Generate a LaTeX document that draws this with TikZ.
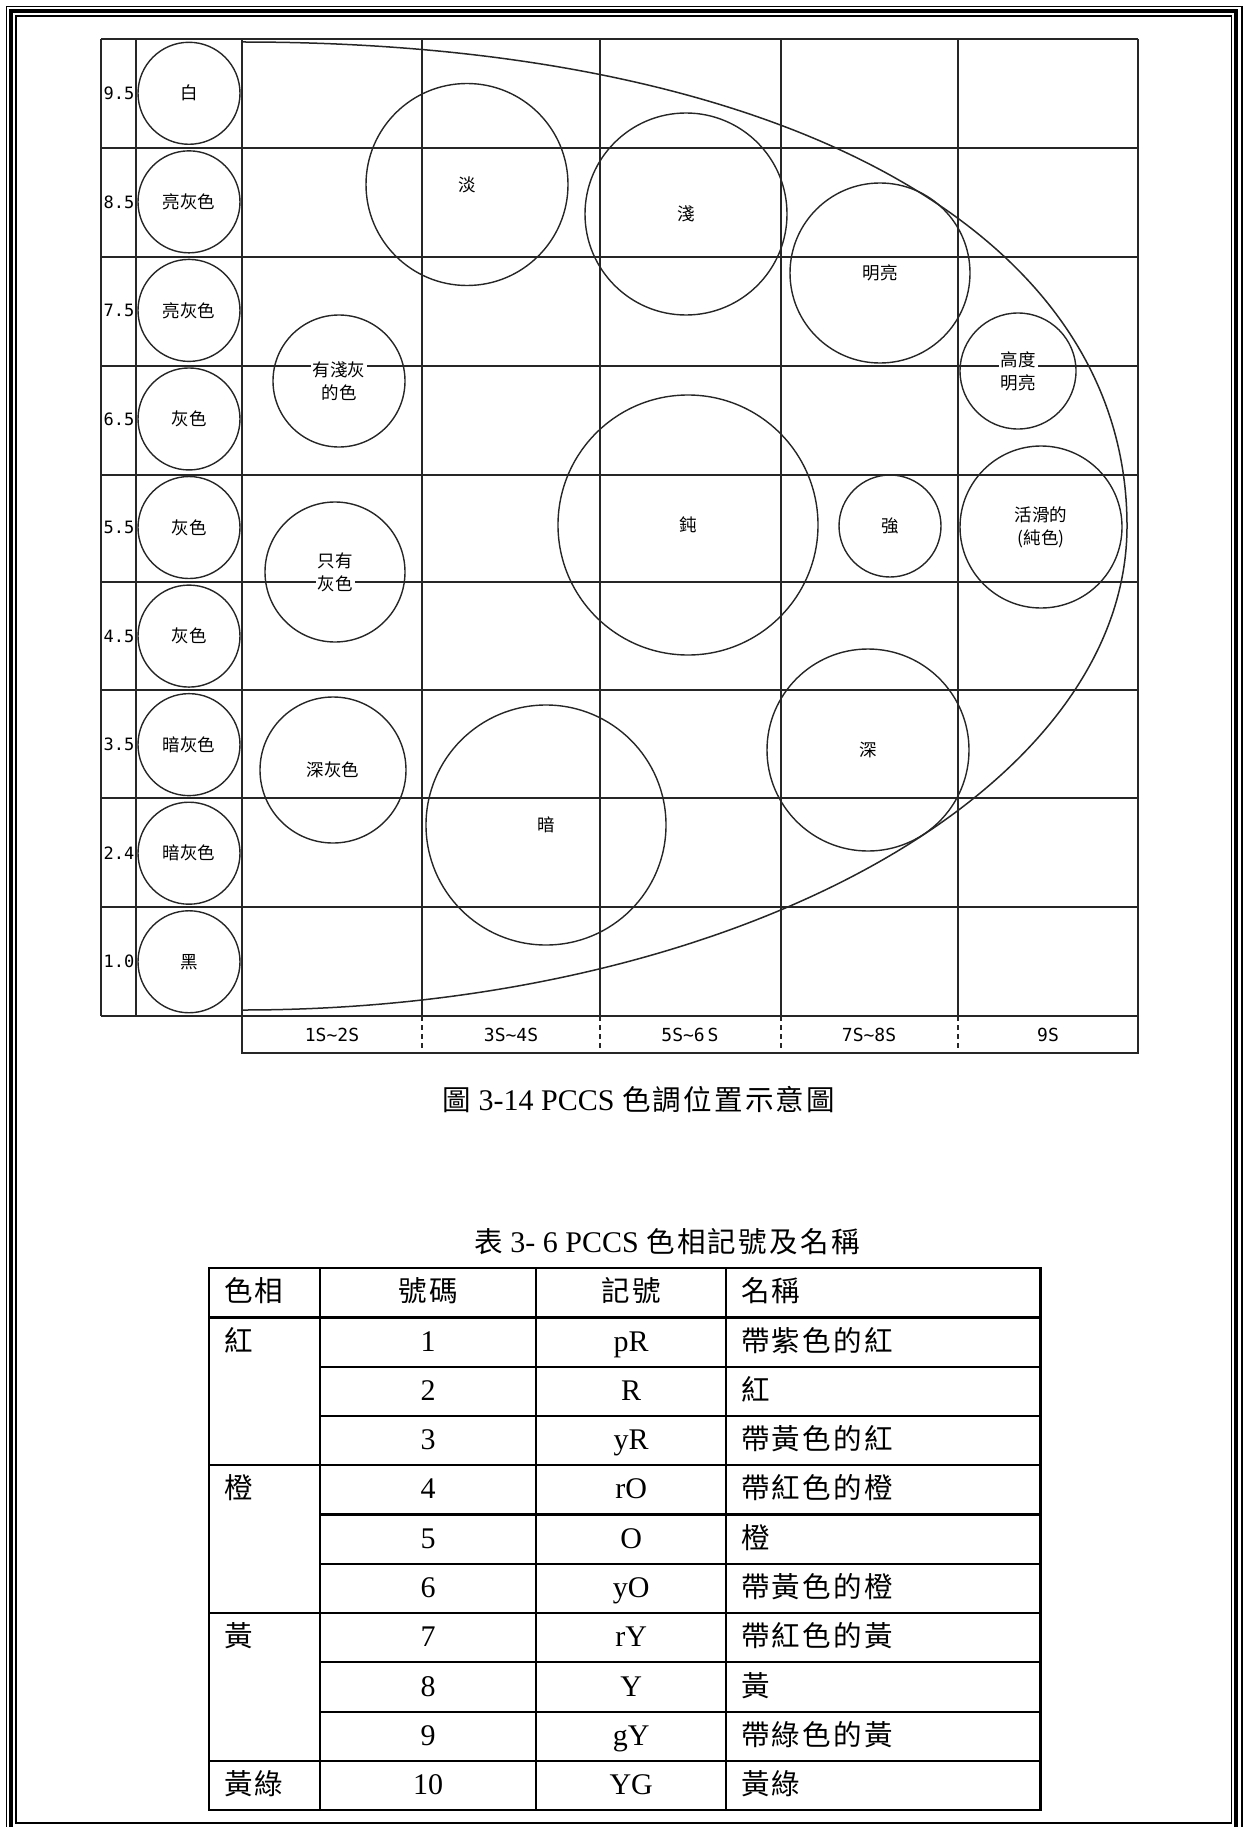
\documentclass[tikz,border=0pt]{standalone}
\usepackage{fontspec}
\setmainfont{Liberation Serif}
\newfontfamily\cjk{Noto Sans CJK TC}
\newfontfamily\zhfont[Scale=0.95,LetterSpace=8]{Noto Sans CJK TC}
\newfontfamily\numfont{DejaVu Sans Mono}
\newcommand{\zh}[1]{{\zhfont #1}}
\usetikzlibrary{matrix}

\begin{document}
\begin{tikzpicture}[
    x=1pt, y=-1pt,
    grid/.style={
      draw=black!85,
      line width=1.8pt
    },
    ring/.style={
      draw=black!85,
      circle,
      line width=1.4pt,
      inner sep=0pt,
      minimum size=#1
    },
    tag/.style={
      fill=white,
      inner sep=2pt,
      align=center,
      font=\cjk\fontsize{17.5}{23}\selectfont
    },
    axis/.style={
      font=\numfont\fontsize{17}{18}\selectfont
    },
    caption/.style={
      font=\fontsize{30}{34}\selectfont
    },
    cell/.style={
      inner xsep=0pt,
      inner ysep=0pt,
      outer sep=0pt,
      minimum height=49.27pt,
      text height=23pt,
      text depth=5pt,
      font=\fontsize{30}{34}\selectfont
    },
    rule/.style={
      line width=2.2pt
    }
  ]
  \useasboundingbox (0,0) rectangle (1244,1827);

  % page frame
  \draw[line width=1.7pt] (6.5,6.5) rectangle (1242,1840);
  \draw[line width=4.3pt] (11.3,11.3) rectangle (1236.3,1832);
  \draw[line width=1.7pt] (16,16) rectangle (1231.5,1823);

  % tone chart grid
  \foreach \y in {39,148,257,366,475,582,690,798,907,1016}
    \draw[grid] (101,\y) -- (1138,\y);
  \foreach \c in {101,136,242,422,600,781,958,1138}
    \draw[grid] (\c,39) -- (\c,1016);
  \draw[grid] (242,1016) -- (242,1053) -- (1138,1053) -- (1138,1016);
  \foreach \c in {422,600,781,958}
    \draw[grid, dash pattern=on 5pt off 4pt] (\c,1016) -- (\c,1053);

  % value scale and grays
  \foreach \v [count=\i] in {9.5,8.5,7.5,6.5,5.5,4.5,3.5,2.4,1.0}
    \node[axis] (v\i) at (119,{39+108.56*(\i-0.5)}) {\v};
  \foreach \g [count=\i] in {白,亮灰色,亮灰色,灰色,灰色,灰色,暗灰色,暗灰色,黑} {
    \node[ring=102pt] (g\i) at (189,{39+108.56*(\i-0.5)}) {};
    \node[tag] at (g\i) {\g};
  }

  % chroma ranges
  \foreach \s [count=\i] in {1S\textasciitilde 2S,3S\textasciitilde 4S,5S\textasciitilde 6\,S,7S\textasciitilde 8S,9S}
    \node[axis, font=\numfont\fontsize{18}{20}\selectfont] (s\i) at ({332+179*(\i-1)},1035) {\s};

  % envelope
  \draw[draw=black!85, line width=1.5pt] (242,42) .. controls (780,42) and (1127,230) .. (1127,526)
    .. controls (1127,793) and (731,1010) .. (242,1010);

  % tones
  \node[ring=202pt] (pale) at (467,184.5) {};
  \node[ring=202pt] (light) at (686,214) {};
  \node[ring=180pt] (bright) at (880,273) {};
  \node[ring=116pt] (vbright) at (1018,371) {};
  \node[ring=260pt] (dull) at (688,525) {};
  \node[ring=102pt] (strong) at (890,526) {};
  \node[ring=162pt] (vivid) at (1041,527) {};
  \node[ring=202pt] (deep) at (868,750) {};
  \node[ring=240pt] (dark) at (546,825) {};
  \node[ring=132pt] (ltgray) at (339,381) {};
  \node[ring=140pt] (grayish) at (335,572) {};
  \node[ring=146pt] (dkgray) at (333,770) {};

  \node[tag] at (pale) {淡};
  \node[tag] at (light) {淺};
  \node[tag] at (bright) {明亮};
  \node[tag] at (vbright) {高度\\明亮};
  \node[tag] at (dull) {鈍};
  \node[tag] at (strong) {強};
  \node[tag] at (vivid) {活滑的\\(純色)};
  \node[tag] at (deep) {深};
  \node[tag] at (dark) {暗};
  \node[tag] at (ltgray) {有淺灰\\的色};
  \node[tag] at (grayish) {只有\\灰色};
  \node[tag] at (dkgray) {深灰色};

  \node[caption] (cap) at (639,1100) {\zh{圖} 3-14 PCCS \zh{色調位置示意圖}};
  \node[caption] (title) at (667,1242) {\zh{表} 3- 6 PCCS \zh{色相記號及名稱}};

  % hue table
  \matrix (T) [
    matrix of nodes,
    nodes in empty cells,
    row sep=0pt,
    column sep=0pt,
    inner sep=0pt,
    nodes={cell},
    column 1/.style={nodes={text width=81pt, inner xsep=15pt, align=left}},
    column 2/.style={nodes={minimum width=216pt}},
    column 3/.style={nodes={minimum width=190pt}},
    column 4/.style={nodes={text width=284pt, inner xsep=15pt, align=left}},
    anchor=north west
  ] at (209,1268) {
    \zh{色相} & \zh{號碼} & \zh{記號} & \zh{名稱} \\
    \zh{紅}   & 1  & pR & \zh{帶紫色的紅} \\
              & 2  & R  & \zh{紅} \\
              & 3  & yR & \zh{帶黃色的紅} \\
    \zh{橙}   & 4  & rO & \zh{帶紅色的橙} \\
              & 5  & O  & \zh{橙} \\
              & 6  & yO & \zh{帶黃色的橙} \\
    \zh{黃}   & 7  & rY & \zh{帶紅色的黃} \\
              & 8  & Y  & \zh{黃} \\
              & 9  & gY & \zh{帶綠色的黃} \\
    \zh{黃綠} & 10 & YG & \zh{黃綠} \\
  };
  \draw[rule] (T.north west) rectangle (T.south east);
  \foreach \c in {1,2,3}
    \draw[rule] (T-1-\c.north east) -- (T-11-\c.south east);
  \foreach \r in {1,...,10}
    \draw[rule] (T-\r-2.south west) -- (T-\r-4.south east);
  \foreach \r in {1,4,7,10}
    \draw[rule] (T-\r-1.south west) -- (T-\r-1.south east);
\end{tikzpicture}
\end{document}
